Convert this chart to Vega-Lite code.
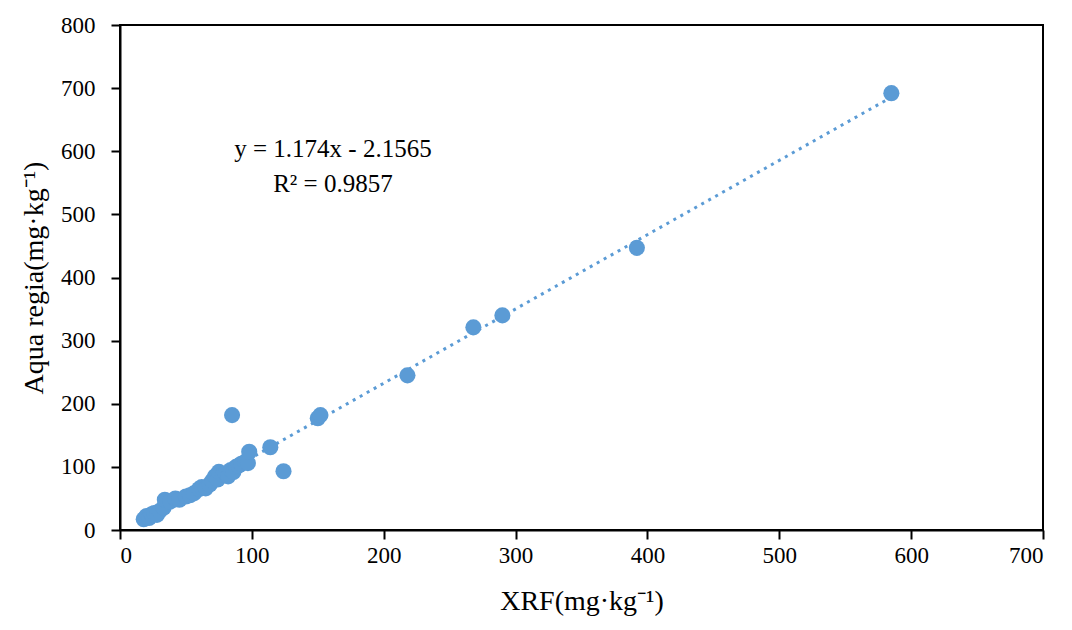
{
  "$schema": "https://vega.github.io/schema/vega-lite/v6.json",
  "width": 923,
  "height": 505,
  "autosize": {"type": "none"},
  "padding": {"left": 120, "top": 25, "right": 29, "bottom": 100},
  "background": "white",
  "config": {
    "view": {"stroke": "black", "strokeWidth": 2},
    "font": "Liberation Serif",
    "axis": {
      "grid": false,
      "domainColor": "black",
      "domainWidth": 2,
      "tickColor": "black",
      "tickWidth": 2,
      "tickSize": 9,
      "labelColor": "black",
      "labelFont": "Liberation Serif",
      "labelFontSize": 23,
      "titleFont": "Liberation Serif",
      "titleFontSize": 28,
      "titleFontWeight": "normal",
      "titleColor": "black"
    }
  },
  "datasets": {
    "pts": [
      {"xrf": 18, "aqua": 17}, {"xrf": 20, "aqua": 22}, {"xrf": 22, "aqua": 19},
      {"xrf": 24, "aqua": 25}, {"xrf": 26, "aqua": 27}, {"xrf": 28, "aqua": 24},
      {"xrf": 30, "aqua": 30}, {"xrf": 33, "aqua": 35}, {"xrf": 34, "aqua": 48},
      {"xrf": 38, "aqua": 45}, {"xrf": 42, "aqua": 50}, {"xrf": 45, "aqua": 48},
      {"xrf": 50, "aqua": 53}, {"xrf": 53, "aqua": 55}, {"xrf": 56, "aqua": 58},
      {"xrf": 60, "aqua": 65}, {"xrf": 62, "aqua": 68}, {"xrf": 65, "aqua": 66},
      {"xrf": 68, "aqua": 72}, {"xrf": 70, "aqua": 78}, {"xrf": 72, "aqua": 85},
      {"xrf": 74, "aqua": 80}, {"xrf": 75, "aqua": 92}, {"xrf": 78, "aqua": 88},
      {"xrf": 80, "aqua": 90}, {"xrf": 82, "aqua": 85}, {"xrf": 84, "aqua": 95},
      {"xrf": 86, "aqua": 92}, {"xrf": 88, "aqua": 100}, {"xrf": 90, "aqua": 102},
      {"xrf": 92, "aqua": 105}, {"xrf": 95, "aqua": 108}, {"xrf": 97, "aqua": 106},
      {"xrf": 98, "aqua": 124}, {"xrf": 85, "aqua": 182}, {"xrf": 114, "aqua": 131},
      {"xrf": 124, "aqua": 93}, {"xrf": 150, "aqua": 177}, {"xrf": 152, "aqua": 182},
      {"xrf": 218, "aqua": 245}, {"xrf": 268, "aqua": 321}, {"xrf": 290, "aqua": 340},
      {"xrf": 392, "aqua": 447}, {"xrf": 585, "aqua": 692}
    ],
    "notes": [
      {"xrf": 161.5, "aqua": 604, "label": "y = 1.174x  - 2.1565"},
      {"xrf": 161.5, "aqua": 548, "label": "R² = 0.9857"}
    ]
  },
  "layer": [
    {
      "data": {"name": "pts"},
      "transform": [{"regression": "aqua", "on": "xrf", "method": "linear"}],
      "mark": {"type": "line", "color": "#5B9BD5", "strokeWidth": 3, "strokeDash": [3, 5]},
      "encoding": {
        "x": {"field": "xrf", "type": "quantitative"},
        "y": {"field": "aqua", "type": "quantitative"}
      }
    },
    {
      "data": {"name": "pts"},
      "mark": {"type": "point", "shape": "circle", "filled": true, "color": "#5B9BD5", "opacity": 1, "size": 260},
      "encoding": {
        "x": {
          "field": "xrf", "type": "quantitative",
          "scale": {"domain": [0, 700], "nice": false},
          "axis": {"values": [0, 100, 200, 300, 400, 500, 600, 700], "title": "XRF(mg·kg⁻¹)", "labelPadding": 5, "titlePadding": 20}
        },
        "y": {
          "field": "aqua", "type": "quantitative",
          "scale": {"domain": [0, 800], "nice": false},
          "axis": {"values": [0, 100, 200, 300, 400, 500, 600, 700, 800], "title": "Aqua regia(mg·kg⁻¹)", "labelPadding": 16, "titlePadding": 12}
        }
      }
    },
    {
      "data": {"name": "notes"},
      "mark": {"type": "text", "font": "Liberation Serif", "fontSize": 25, "color": "black", "align": "center", "baseline": "middle"},
      "encoding": {
        "x": {"field": "xrf", "type": "quantitative"},
        "y": {"field": "aqua", "type": "quantitative"},
        "text": {"field": "label"}
      }
    }
  ]
}
